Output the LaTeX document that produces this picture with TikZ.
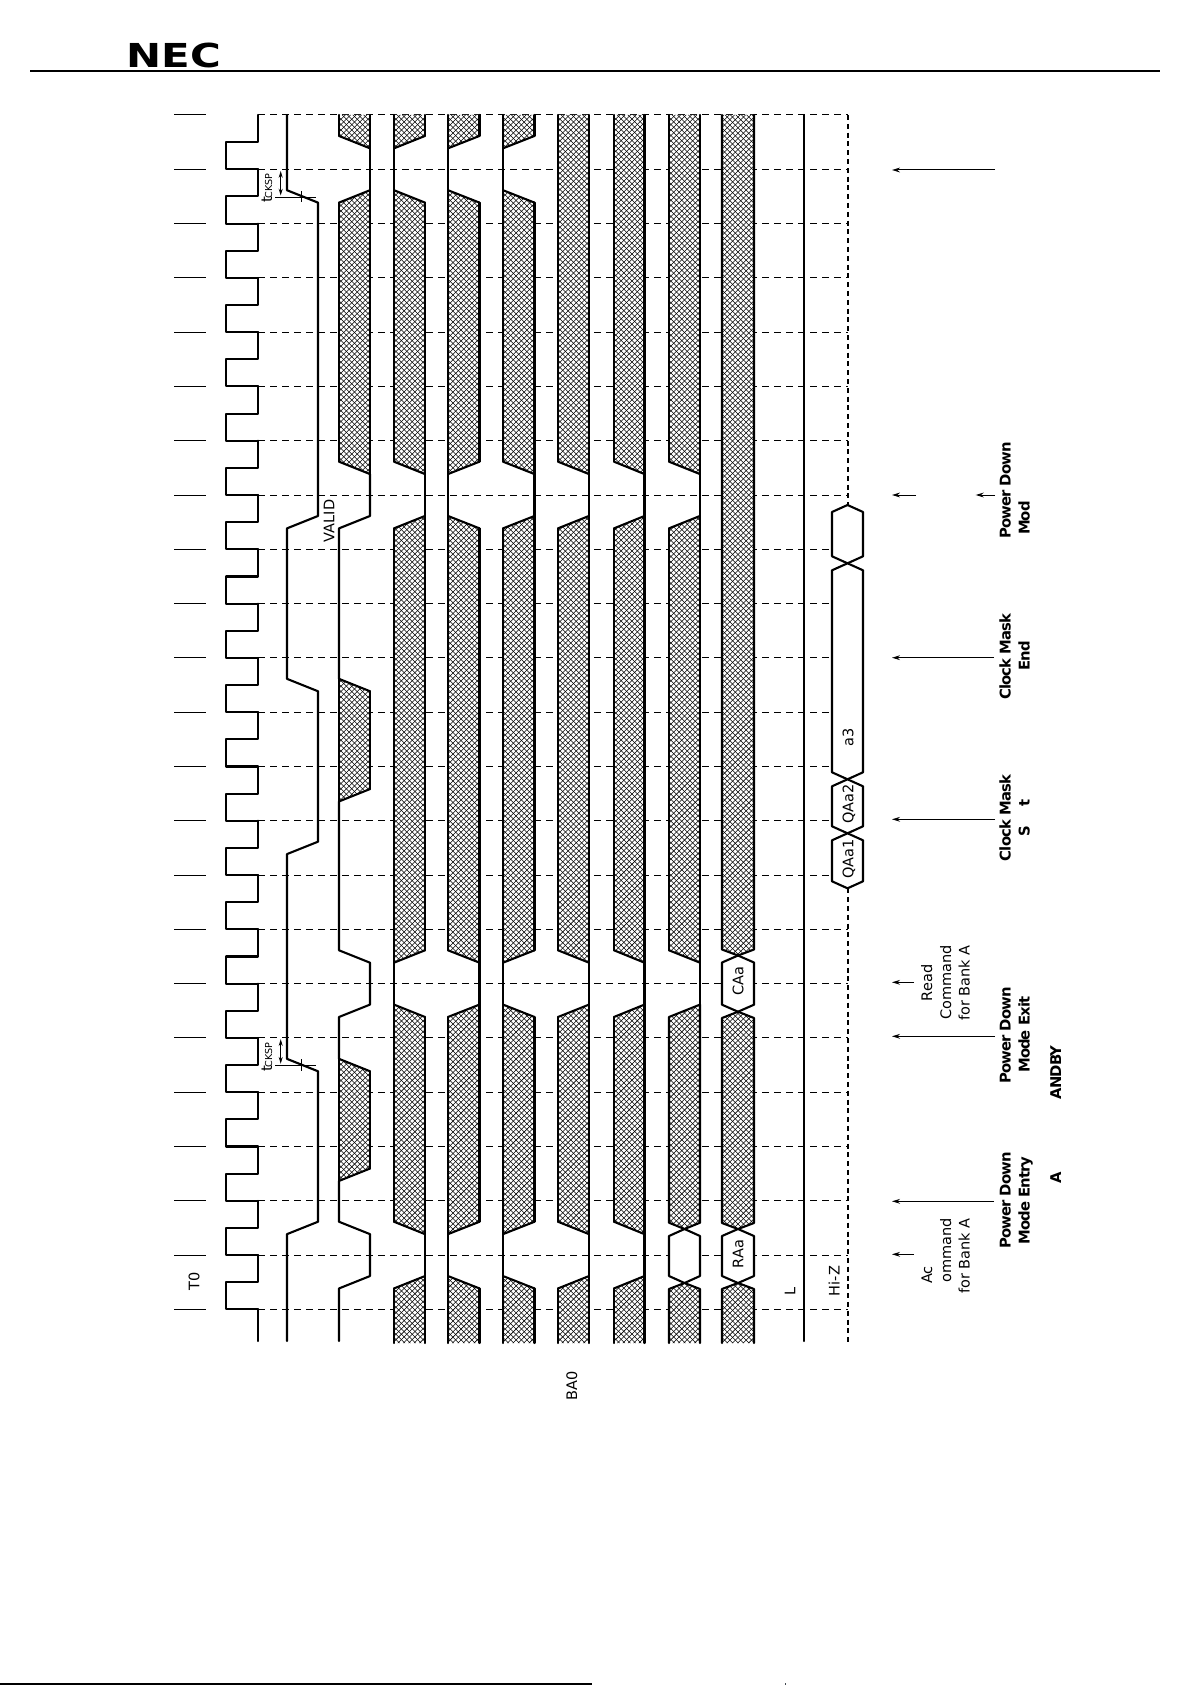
\documentclass[tikz,border=0pt]{standalone}
\usepackage{fontspec}
\setmainfont{DejaVu Sans}
\newfontfamily\boldlab[LetterSpace=-6]{DejaVu Sans Bold}
\usetikzlibrary{arrows.meta}
\tikzset{
  sig/.style={line width=1.05pt,line cap=round,line join=round},
  hatchline/.style={line width=.27pt},
  gridline/.style={line width=.5pt,dash pattern=on 3.7pt off 2.3pt},
  tickline/.style={line width=.5pt},
  lab/.style={rotate=90,inner sep=0pt,text height=5.3pt,text depth=0pt,font=\fontsize{7.25pt}{8pt}\selectfont},
  blab/.style={rotate=90,inner sep=0pt,text height=5.5pt,text depth=0pt,font=\fontsize{7.4pt}{8pt}\boldlab\selectfont},
  ann/.style={line width=.5pt,-{Stealth[length=4pt,width=2.4pt]}},
  dimline/.style={line width=.45pt}
}
% white region filled with crossed diagonals: path, xl, xr, ytop, ybottom
\newcommand\hatchpoly[5]{%
  \fill[white] #1;
  \pgfmathsetmacro\hatchW{#3-#2+2}
  \pgfmathsetmacro\hatchA{100+5.4*floor((#4-\hatchW-100)/5.4)}
  \pgfmathsetmacro\hatchB{\hatchA+5.4}
  \pgfmathsetmacro\hatchC{#5+5.4}
  \begin{scope}
    \clip #1;
    \foreach \yy in {\hatchA,\hatchB,...,\hatchC}{
      \draw[hatchline] ({#2-1},\yy) -- ({#3+1},{\yy+\hatchW});
      \draw[hatchline] ({#2-1},{\yy+\hatchW}) -- ({#3+1},\yy);
    }
  \end{scope}
}
% trapezoid: xl xr kbottom sidebottom ktop sidetop (side +1 right, -1 left, 0 open)
\newcommand\trap[6]{%
  \pgfmathsetmacro\trapT{Yk(#5)-7}
  \pgfmathsetmacro\trapB{Yk(#3)+7}
  \hatchpoly{(#1,{Yk(#3)-(#4)*6.2}) -- (#2,{Yk(#3)+(#4)*6.2}) -- (#2,{Yk(#5)-(#6)*6.2}) -- (#1,{Yk(#5)+(#6)*6.2}) -- cycle}{#1}{#2}{\trapT}{\trapB}
  \draw[sig] (#1,{Yk(#3)-(#4)*6.2}) -- (#1,{Yk(#5)+(#6)*6.2});
  \draw[sig] (#2,{Yk(#3)+(#4)*6.2}) -- (#2,{Yk(#5)-(#6)*6.2});
  \ifnum#4=0\else\draw[sig] (#1,{Yk(#3)-(#4)*6.2}) -- (#2,{Yk(#3)+(#4)*6.2});\fi
  \ifnum#6=0\else\draw[sig] (#1,{Yk(#5)+(#6)*6.2}) -- (#2,{Yk(#5)-(#6)*6.2});\fi
}
\newcommand\wline[3]{\draw[sig] (#1,{Yk(#2)-6.2}) -- (#1,{Yk(#3)+6.2});}
% pointed hexagon: xl xr ytop ybottom
\newcommand\hexa[4]{%
  \draw[sig,fill=white] ({(#1+#2)/2},#3) -- (#2,{#3+7}) -- (#2,{#4-7}) -- ({(#1+#2)/2},#4) -- (#1,{#4-7}) -- (#1,{#3+7}) -- cycle;
}
% hatched bar, open at the top, pointed at the bottom: xl xr ybottom
\newcommand\opentop[3]{%
  \hatchpoly{(#1,115) -- (#2,115) -- (#2,{#3-6}) -- ({(#1+#2)/2},#3) -- (#1,{#3-6}) -- cycle}{#1}{#2}{115}{#3}
  \draw[sig] (#2,115) -- (#2,{#3-6}) -- ({(#1+#2)/2},#3) -- (#1,{#3-6}) -- (#1,115);
}
% hatched bar, pointed at the top, open at the bottom: xl xr ytop
\newcommand\openbot[3]{%
  \hatchpoly{(#1,1343) -- (#2,1343) -- (#2,{#3+6}) -- ({(#1+#2)/2},#3) -- (#1,{#3+6}) -- cycle}{#1}{#2}{#3}{1343}
  \draw[sig] (#2,1343) -- (#2,{#3+6}) -- ({(#1+#2)/2},#3) -- (#1,{#3+6}) -- (#1,1343);
}
\begin{document}
\begin{tikzpicture}[x=0.5pt,y=-0.5pt,declare function={Yk(\q)=1309.37-54.29*\q;}]
\useasboundingbox (0,0) rectangle (1191,1685);
% header
\node[inner sep=0pt,text height=12pt,text depth=0pt,font=\fontsize{16.5pt}{18pt}\bfseries\selectfont] (logo) at (174,56) {\scalebox{1.27}[1]{NEC}};
\draw[line width=1pt] (30,71) -- (1160,71);
\draw[line width=1pt] (0,1684) -- (592,1684);
\fill[black!80!cyan] (784.6,1683) rectangle (786,1685);
% grid and ticks
\foreach \i in {0,...,22}{
  \draw[gridline] (258,{Yk(\i)}) -- (848,{Yk(\i)});
  \draw[tickline] (174,{Yk(\i)}) -- (206,{Yk(\i)});
}
% clock
\draw[sig] (258,1341) -- (258,{Yk(0)});
\foreach \i in {0,...,21}{
  \draw[sig] (258,{Yk(\i)}) -- (226,{Yk(\i)}) -- (226,{Yk(\i+.5)}) -- (258,{Yk(\i+.5)}) -- (258,{Yk(\i+1)});
}
% CKE
\draw[sig] (287,1341) -- (287,{Yk(1.5)+6.2}) -- (318,{Yk(1.5)-6.2}) -- (318,{Yk(4.5)+6.2}) -- (287,{Yk(4.5)-6.2})
  -- (287,{Yk(8.5)+6.2}) -- (318,{Yk(8.5)-6.2}) -- (318,{Yk(11.5)+6.2}) -- (287,{Yk(11.5)-6.2})
  -- (287,{Yk(14.5)+6.2}) -- (318,{Yk(14.5)-6.2}) -- (318,{Yk(20.5)+6.2}) -- (287,{Yk(20.5)-6.2}) -- (287,115);
% lane 3
\draw[sig] (339,1341) -- (339,{Yk(.5)+6.2}) -- (370,{Yk(.5)-6.2}) -- (370,{Yk(1.5)+6.2}) -- (339,{Yk(1.5)-6.2}) -- (339,{Yk(2.48)+6.2});
\trap{339}{370}{2.48}{-1}{4.5}{-1}
\draw[sig] (339,{Yk(4.5)-6.2}) -- (339,{Yk(5.5)+6.2}) -- (370,{Yk(5.5)-6.2}) -- (370,{Yk(6.5)+6.2}) -- (339,{Yk(6.5)-6.2}) -- (339,{Yk(9.47)+6.2});
\trap{339}{370}{9.47}{-1}{11.5}{-1}
\draw[sig] (339,{Yk(11.5)-6.2}) -- (339,{Yk(14.5)+6.2}) -- (370,{Yk(14.5)-6.2}) -- (370,{Yk(15.5)+6.2});
\trap{339}{370}{15.5}{1}{20.5}{1}
\wline{370}{20.5}{21.5}
\trap{339}{370}{21.5}{1}{22}{0}
% lane 4
\trap{394}{425}{-0.62}{0}{0.5}{1}
\wline{425}{0.5}{1.5}
\trap{394}{425}{1.5}{1}{5.5}{-1}
\wline{394}{5.5}{6.5}
\trap{394}{425}{6.5}{-1}{14.5}{1}
\wline{425}{14.5}{15.5}
\trap{394}{425}{15.5}{1}{20.5}{-1}
\wline{394}{20.5}{21.5}
\trap{394}{425}{21.5}{-1}{22}{0}
% lane 5
\trap{448}{479.5}{-0.62}{0}{0.5}{-1}
\wline{448}{0.5}{1.5}
\trap{448}{479.5}{1.5}{-1}{5.5}{1}
\wline{479.5}{5.5}{6.5}
\trap{448}{479.5}{6.5}{1}{14.5}{-1}
\wline{448}{14.5}{15.5}
\trap{448}{479.5}{15.5}{-1}{20.5}{-1}
\wline{448}{20.5}{21.5}
\trap{448}{479.5}{21.5}{-1}{22}{0}
% lane 6
\trap{503}{534.5}{-0.62}{0}{0.5}{-1}
\wline{503}{0.5}{1.5}
\trap{503}{534.5}{1.5}{-1}{5.5}{-1}
\wline{503}{5.5}{6.5}
\trap{503}{534.5}{6.5}{-1}{14.5}{1}
\wline{534.5}{14.5}{15.5}
\trap{503}{534.5}{15.5}{1}{20.5}{-1}
\wline{503}{20.5}{21.5}
\trap{503}{534.5}{21.5}{-1}{22}{0}
% lane 7
\trap{558}{589}{-0.62}{0}{0.5}{1}
\wline{589}{0.5}{1.5}
\trap{558}{589}{1.5}{1}{5.5}{1}
\wline{589}{5.5}{6.5}
\trap{558}{589}{6.5}{1}{14.5}{1}
\wline{589}{14.5}{15.5}
\trap{558}{589}{15.5}{1}{22}{0}
% lane 8
\trap{614}{644.5}{-0.62}{0}{0.5}{1}
\wline{644.5}{0.5}{1.5}
\trap{614}{644.5}{1.5}{1}{5.5}{1}
\wline{644.5}{5.5}{6.5}
\trap{614}{644.5}{6.5}{1}{14.5}{1}
\wline{644.5}{14.5}{15.5}
\trap{614}{644.5}{15.5}{1}{22}{0}
% lane 9
\openbot{669}{700}{1283}
\hexa{669}{700}{1229}{1283}
\hatchpoly{(669,1222.7) -- (684.5,1229) -- (700,1222.7) -- (700,{Yk(5.5)-6.2}) -- (669,{Yk(5.5)+6.2}) -- cycle}{669}{700}{1000}{1229}
\draw[sig] (669,{Yk(5.5)+6.2}) -- (700,{Yk(5.5)-6.2}) -- (700,1222.7) -- (684.5,1229) -- (669,1222.7) -- cycle;
\wline{700}{5.5}{6.5}
\trap{669}{700}{6.5}{1}{14.5}{1}
\wline{700}{14.5}{15.5}
\trap{669}{700}{15.5}{1}{22}{0}
% lane 10
\openbot{722}{754}{1283}
\hexa{722}{754}{1229}{1283}
\hatchpoly{(722,1018) -- (738,1011.7) -- (754,1018) -- (754,1223) -- (738,1229) -- (722,1223) -- cycle}{722}{754}{1011}{1229}
\draw[sig] (722,1018) -- (738,1011.7) -- (754,1018) -- (754,1223) -- (738,1229) -- (722,1223) -- cycle;
\hexa{722}{754}{955.5}{1011.7}
\opentop{722}{754}{955.5}
% L line
\draw[sig] (804,115) -- (804,1341);
% data out
\draw[line width=1pt,dash pattern=on 2.5pt off 1.9pt] (848,115) -- (848,505);
\draw[line width=1pt,dash pattern=on 2.5pt off 1.9pt] (848,888.3) -- (848,1342);
\hexa{832}{863}{505}{563.3}
\hexa{832}{863}{563.3}{779.3}
\hexa{832}{863}{779.3}{833.3}
\hexa{832}{863}{833.3}{888.3}
% tCKSP dimensions
\foreach \ky/\nm in {1038.2/a,170/b}{
  \draw[dimline,{Stealth[length=3.4pt,width=2pt]}-{Stealth[length=3.4pt,width=2pt]}] (280.7,\ky+1) -- (280.7,\ky+25.5);
  \draw[dimline] (275,\ky+27.2) -- (315.7,\ky+27.2);
  \draw[dimline] (301.7,\ky+21) -- (301.7,\ky+32.5);
}
\node[rotate=90,inner sep=0pt,text height=5pt,text depth=0pt] (tcka) at (267,1057) {{\fontsize{7.5pt}{8pt}\selectfont t}\kern-.9pt{\fontsize{4.8pt}{6pt}\selectfont CKSP}};
\node[rotate=90,inner sep=0pt,text height=5pt,text depth=0pt] (tckb) at (267,188) {{\fontsize{7.5pt}{8pt}\selectfont t}\kern-.9pt{\fontsize{4.8pt}{6pt}\selectfont CKSP}};
% labels
\node[lab] (t0) at (194,1281) {T0};
\node[lab] (ba0) at (571.7,1386) {BA0};
\node[lab] (valid) at (329,521) {VALID};
\node[lab] (a3) at (848,737.7) {a3};
\node[lab] (qa2) at (848,804) {QAa2};
\node[lab] (qa1) at (848,859) {QAa1};
\node[lab] (caa) at (738,981) {CAa};
\node[lab] (raa) at (738,1254) {RAa};
\node[lab] (l) at (790,1291.7) {L};
\node[lab] (hiz) at (834.3,1281) {Hi-Z};
% annotation arrows
\coordinate (p1) at (995,170);   \coordinate (q1) at (892,170);
\coordinate (p2) at (916,495);   \coordinate (q2) at (892,495);
\coordinate (p3) at (995,495);   \coordinate (q3) at (975.7,495);
\coordinate (p4) at (994,657.7); \coordinate (q4) at (892,657.7);
\coordinate (p5) at (995,819.3); \coordinate (q5) at (892,819.3);
\coordinate (p6) at (914,982.3); \coordinate (q6) at (892,982.3);
\coordinate (p7) at (995,1036.3);\coordinate (q7) at (892,1036.3);
\coordinate (p8) at (994,1201.3);\coordinate (q8) at (892,1201.3);
\coordinate (p9) at (914,1254.3);\coordinate (q9) at (892,1254.3);
\foreach \n in {1,...,9}{\draw[ann] (p\n) -- (q\n);}
% annotation texts
\node[lab] (r1) at (926.7,983) {Read};
\node[lab] (r2) at (945.7,982.7) {Command};
\node[lab] (r3) at (964.3,983) {for Bank A};
\node[lab] (c1) at (926.7,1275) {Ac};
\node[lab] (c2) at (945.7,1250.5) {ommand};
\node[lab] (c3) at (964.3,1256) {for Bank A};
\node[blab] (b1) at (1005,490.6) {Power Down};
\node[blab] (b2) at (1024,518) {Mod};
\node[blab] (b3) at (1005,656.7) {Clock Mask};
\node[blab] (b4) at (1024,656) {End};
\node[blab] (b5) at (1005,818) {Clock Mask};
\node[blab] (b6) at (1024,831.6) {S};
\node[blab] (b7) at (1024,803) {t};
\node[blab] (b8) at (1005,1035.5) {Power Down};
\node[blab] (b9) at (1024,1034.7) {Mode Exit};
\node[blab] (b10) at (1055.7,1072.5) {ANDBY};
\node[blab] (b11) at (1005,1200.5) {Power Down};
\node[blab] (b12) at (1024,1200.5) {Mode Entry};
\node[blab] (b13) at (1055.7,1177.5) {A};
\end{tikzpicture}
\end{document}
